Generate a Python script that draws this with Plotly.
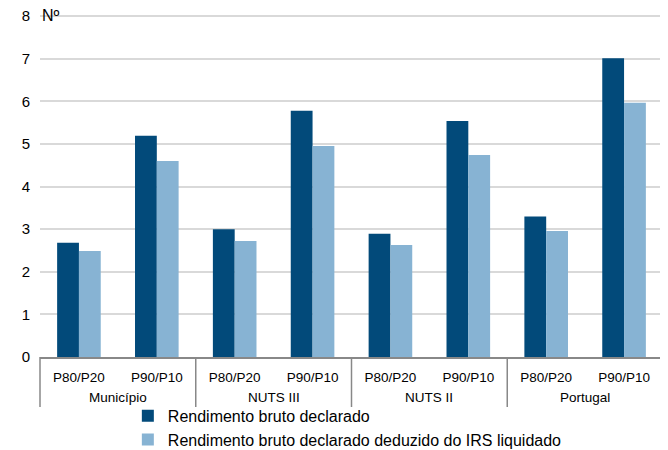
import plotly.graph_objects as go

regions = ["Município", "NUTS III", "NUTS II", "Portugal"]
ratios = ["P80/P20", "P90/P10", "P80/P20", "P90/P10", "P80/P20", "P90/P10", "P80/P20", "P90/P10"]
bruto = [2.68, 5.19, 3.00, 5.78, 2.89, 5.54, 3.30, 7.01]
deduzido = [2.49, 4.60, 2.72, 4.95, 2.63, 4.74, 2.96, 5.97]

pos = list(range(len(ratios)))
per_group = len(ratios) // len(regions)

fig = go.Figure()
fig.add_trace(go.Bar(x=pos, y=bruto, name="Rendimento bruto declarado",
                     marker=dict(color="#024a7a", line=dict(width=0))))
fig.add_trace(go.Bar(x=pos, y=deduzido, name="Rendimento bruto declarado deduzido do IRS liquidado",
                     marker=dict(color="#87b3d3", line=dict(width=0))))

# page has an 8px body margin, so the figure is 8px smaller than the window
fig.update_layout(
    width=660, height=442,
    barmode="group", bargap=0.44, bargroupgap=0,
    plot_bgcolor="white", paper_bgcolor="white",
    font=dict(family="Liberation Sans, Arial, sans-serif", size=13, color="#000000"),
    margin=dict(l=32, r=5, t=6, b=93, autoexpand=False),
    legend=dict(orientation="v", x=0.141, xanchor="left", y=-0.122, yanchor="top",
                font=dict(size=16), itemwidth=30, tracegroupgap=0, bgcolor="rgba(0,0,0,0)"),
    showlegend=True,
)
fig.update_xaxes(range=[-0.5, len(ratios) - 0.5], tickvals=pos, ticktext=ratios,
                 showline=True, linecolor="#888888", linewidth=1.5, showgrid=False,
                 ticks="", tickfont=dict(size=13.5), ticklabelstandoff=7, automargin=False)
fig.update_yaxes(range=[0, 8.05], dtick=1, showgrid=True, gridcolor="#d9d9d9", gridwidth=1.5,
                 zeroline=False, ticks="", tickfont=dict(size=15), ticklabelstandoff=9,
                 ticklabeloverflow="allow", automargin=False)

# group labels and dividers under the axis
n = len(ratios)
for g, name in enumerate(regions):
    mid = (g * per_group + (g + 1) * per_group - 1) / 2
    fig.add_annotation(text=name, x=mid, xref="x", y=0, yref="paper", yanchor="middle",
                       yshift=-40, showarrow=False, font=dict(size=13.5))
for g in range(len(regions) + 1):
    xb = g * per_group / n
    fig.add_shape(type="line", xref="paper", yref="paper", x0=xb, x1=xb, y0=0, y1=-50 / 343,
                  line=dict(color="#888888", width=1.5))

fig.add_annotation(text="Nº", x=0, xref="paper", xanchor="left", y=8, yref="y", yanchor="middle",
                   showarrow=False, font=dict(size=16), xshift=0, yshift=1)

fig.write_html("out.html")
